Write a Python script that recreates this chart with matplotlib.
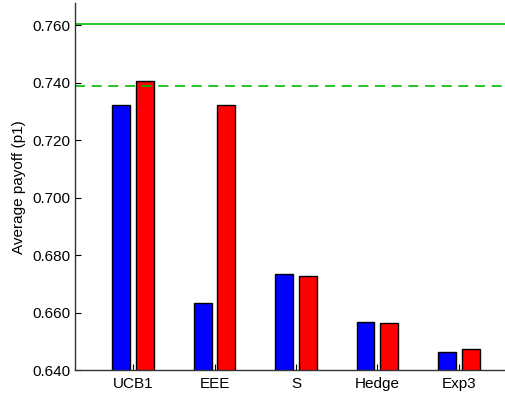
import matplotlib
matplotlib.use('Agg')
import matplotlib.pyplot as plt
import numpy as np

plt.rcParams['font.family'] = ['Liberation Sans', 'DejaVu Sans']

# average payoff per algorithm, two players
algos = ['UCB1', 'EEE', 'S', 'Hedge', 'Exp3']
blue_vals = [0.7324, 0.6634, 0.6733, 0.6566, 0.6464]
red_vals = [0.7406, 0.7324, 0.6727, 0.6563, 0.6474]
best_line = 0.7603
ref_line = 0.7390

fig = plt.figure(figsize=(5.06, 3.95), dpi=100)
ax = fig.add_axes([0.148, 0.063, 0.86, 0.929])

x = np.arange(1, len(algos) + 1)
w = 0.22
ax.bar(x - 0.145, blue_vals, w, color='#0000ff', edgecolor='black', lw=1)
ax.bar(x + 0.145, red_vals, w, color='#ff0000', edgecolor='black', lw=1)

ax.axhline(best_line, color='#00bb00', lw=1.2)
ax.axhline(ref_line, color='#00bb00', lw=1.2, ls=(0, (6, 4)))

ax.set_xlim(0.285, 5.63)
ax.set_ylim(0.640, 0.7677)
ax.set_xticks(x)
ax.set_xticklabels(algos)
ax.set_yticks(np.arange(0.640, 0.761, 0.020))
ax.set_yticklabels(['%.3f' % v for v in np.arange(0.640, 0.761, 0.020)])
ax.tick_params(direction='in', length=4, labelsize=11, width=0.8)
ax.tick_params(axis='x', pad=5)
ax.set_ylabel('Average payoff (p1)', fontsize=11, labelpad=4)

for s in ['top', 'right']:
    ax.spines[s].set_visible(False)
for s in ['left', 'bottom']:
    ax.spines[s].set_color('#333333')
    ax.spines[s].set_linewidth(1.0)

fig.savefig('out.png', dpi=100)
